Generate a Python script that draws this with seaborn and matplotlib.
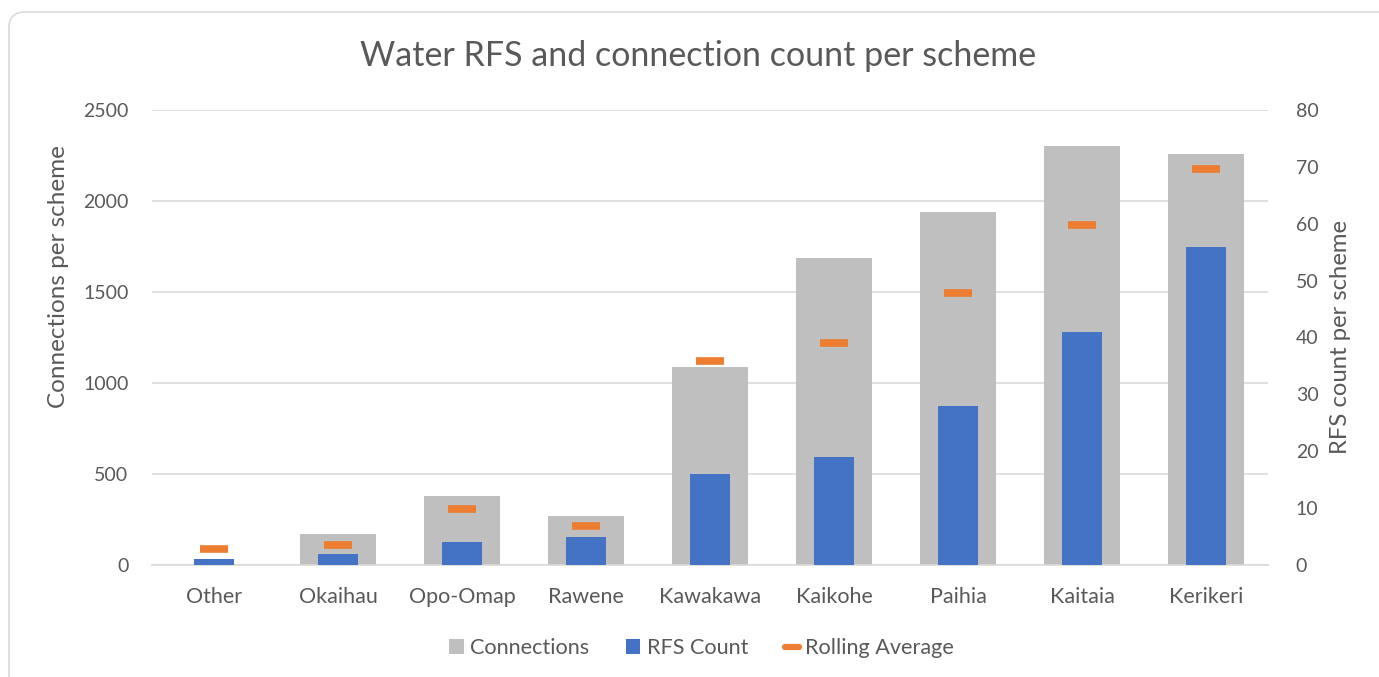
import matplotlib
matplotlib.use("Agg")
import matplotlib.pyplot as plt
import seaborn as sns
import pandas as pd
from matplotlib.patches import FancyBboxPatch, Patch
from matplotlib.lines import Line2D

schemes = ["Other", "Okaihau", "Opo-Omap", "Rawene", "Kawakawa", "Kaikohe", "Paihia", "Kaitaia", "Kerikeri"]
connections = [0, 168, 379, 271, 1086, 1687, 1940, 2304, 2258]
rfs_count = [1, 2, 4, 5, 16, 19, 28, 41, 56]
rolling_avg = [2.8, 3.6, 9.9, 6.9, 35.9, 39.1, 47.9, 59.8, 69.6]

GREY = "#BFBFBF"
BLUE = "#4472C4"
ORANGE = "#ED7D31"
TXT = "#595959"

sns.set_theme(style="white")
plt.rcParams["font.family"] = ["Lato", "DejaVu Sans"]

df = pd.DataFrame({"scheme": schemes, "connections": connections,
                   "rfs": rfs_count, "roll": rolling_avg})

fig = plt.figure(figsize=(13.79, 6.77), dpi=100)
ax1 = fig.add_axes([152/1379, 1-565/677, (1268-152)/1379, (565-110)/677])
ax2 = ax1.twinx()

sns.barplot(data=df, x="scheme", y="connections", order=schemes, color=GREY,
            width=0.62, ax=ax1, saturation=1, edgecolor="none")
sns.barplot(data=df, x="scheme", y="rfs", order=schemes, color=BLUE,
            width=0.315, ax=ax2, saturation=1, edgecolor="none")
sns.scatterplot(data=df, x="scheme", y="roll", marker="_", s=420, linewidth=5.5,
                color=ORANGE, ax=ax2, zorder=5)

ax1.set_xlim(-0.5, 8.5)
ax1.set_ylim(0, 2500)
ax2.set_ylim(0, 80)
ax1.set_yticks(range(0, 2501, 500))
ax2.set_yticks(range(0, 81, 10))
ax1.yaxis.grid(True, color="#D9D9D9", linewidth=1.2)
ax1.set_axisbelow(True)

for ax in (ax1, ax2):
    for s in ax.spines.values():
        s.set_visible(False)
    ax.tick_params(axis="both", length=0, labelsize=14, colors=TXT)
ax1.spines["bottom"].set_visible(True)
ax1.spines["bottom"].set_color("#D9D9D9")
ax1.spines["bottom"].set_linewidth(1.2)
ax1.tick_params(axis="x", pad=16, labelsize=15.5)
ax1.tick_params(axis="y", pad=17)
ax2.tick_params(axis="y", pad=20)

ax1.set_xlabel("")
ax1.set_ylabel("Connections per scheme", fontsize=17.5, color=TXT)
ax2.set_ylabel("RFS count per scheme", fontsize=17.2, color=TXT)
ax1.yaxis.set_label_coords(-0.074, 0.635)
ax2.yaxis.set_label_coords(1.056, 0.5)

fig.text(0.506, 0.917, "Water RFS and connection count per scheme",
         ha="center", va="center", fontsize=24.5, color=TXT)

handles = [Patch(facecolor=GREY, edgecolor="none"),
           Patch(facecolor=BLUE, edgecolor="none"),
           Line2D([], [], color=ORANGE, linewidth=4.5)]
fig.legend(handles, ["Connections", "RFS Count", "Rolling Average"], loc="center",
           bbox_to_anchor=(0.509, 1-648/677), ncol=3, frameon=False, fontsize=15.6,
           labelcolor=TXT, handlelength=0.65, handleheight=0.65, columnspacing=1.7,
           handletextpad=0.3)

border = FancyBboxPatch((9, -30), 1420, 665 + 30, boxstyle="round,pad=0,rounding_size=16",
                        transform=None, facecolor="none", edgecolor="#D9D9D9",
                        linewidth=1.2, zorder=-1)
fig.patches.append(border)

fig.savefig("out.png", dpi=100)
